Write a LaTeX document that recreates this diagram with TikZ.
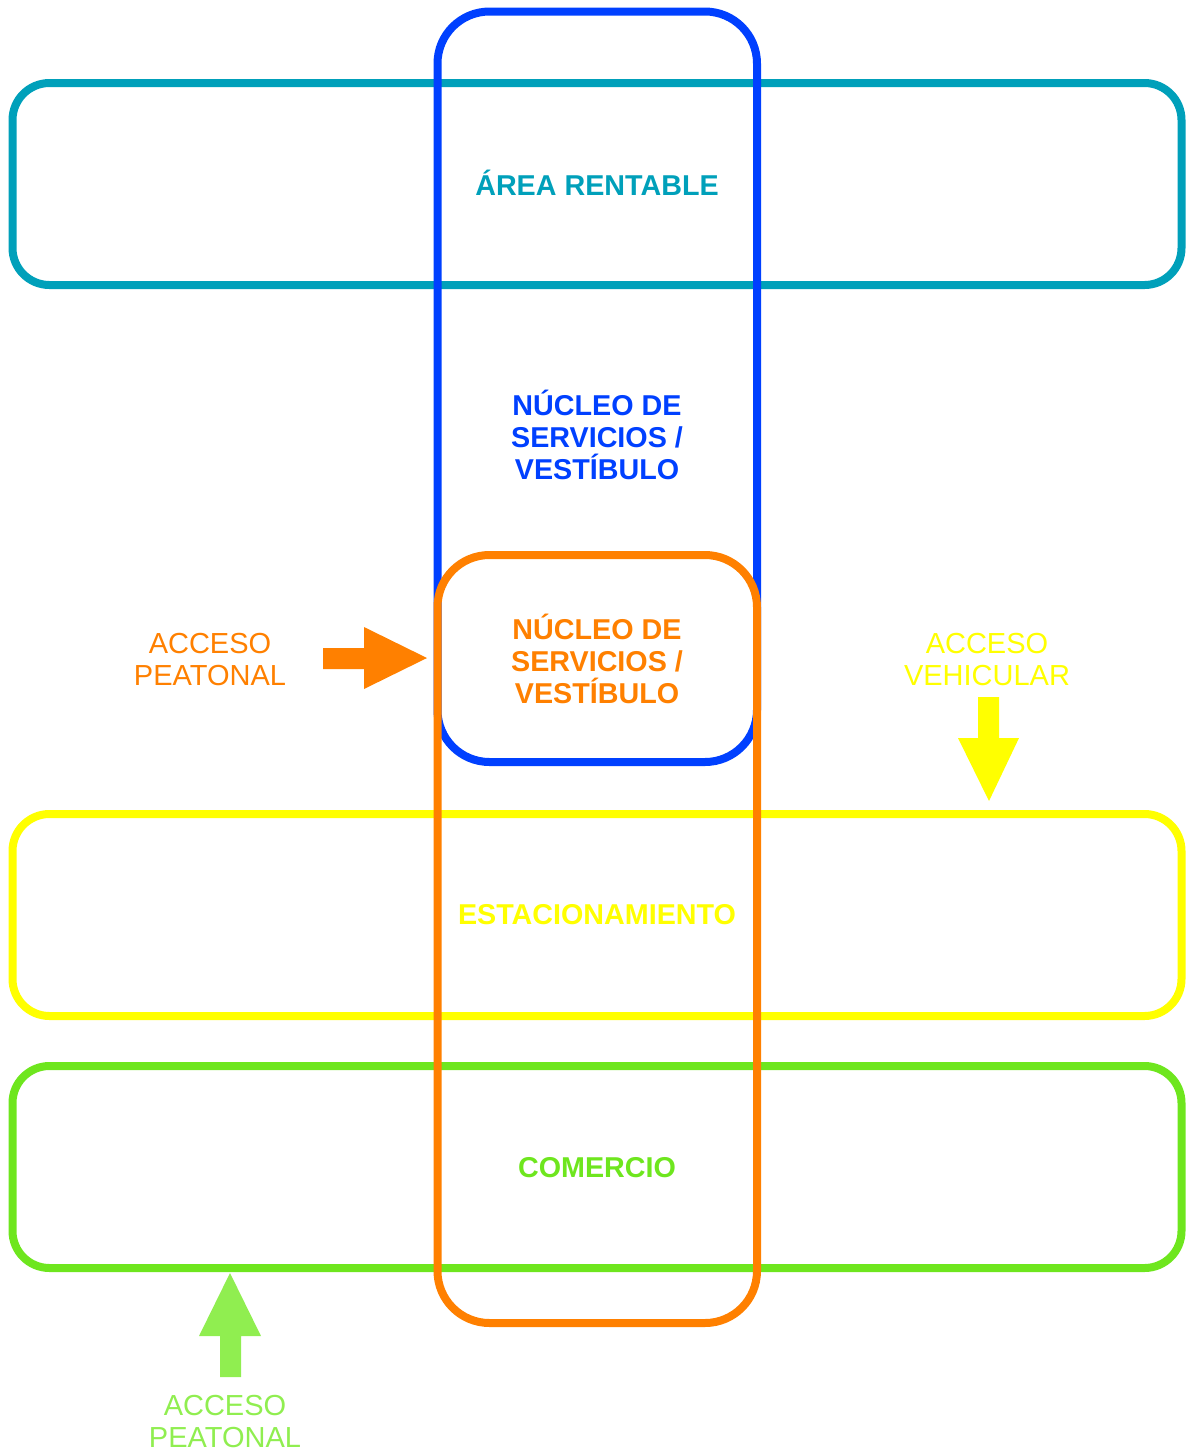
\documentclass[tikz,border=0pt]{standalone}
\usepackage{fontspec}
\setmainfont{Liberation Sans}
\definecolor{renta}{RGB}{0,160,186}
\definecolor{nucleo}{RGB}{0,64,255}
\definecolor{acceso}{RGB}{255,128,0}
\definecolor{estac}{RGB}{255,255,0}
\definecolor{comer}{RGB}{110,230,30}
\definecolor{peaton}{RGB}{144,238,80}
\begin{document}
\begin{tikzpicture}[x=1pt,y=1pt,
  zona/.style={draw, line width=8pt, inner sep=0pt, rounded corners=37pt},
  torre/.style={zona, rounded corners=52pt},
  rotulo/.style={align=center, font=\bfseries\fontsize{28.7}{32}\selectfont},
  aviso/.style={align=center, font=\fontsize{29}{32}\selectfont}]
\useasboundingbox (0,0) rectangle (1190,-1452);
% bands and towers:
\node[zona, draw=renta, minimum width=1169pt, minimum height=202pt] (renta) at (597,-184) {};
\node[torre, draw=nucleo, minimum width=319.5pt, minimum height=750.5pt] (torre) at (597.25,-386.75) {};
\node[zona, draw=estac, minimum width=1169pt, minimum height=202pt] (estac) at (597,-915) {};
\node[zona, draw=comer, minimum width=1169pt, minimum height=202pt] (comer) at (597,-1167) {};
\node[torre, draw=acceso, minimum width=319.5pt, minimum height=768pt] (vestib) at (597.25,-939) {};
% labels:
\node[rotulo, text=renta] (lrenta) at (597,-183) {ÁREA RENTABLE};
\node[rotulo, text=nucleo] (lnucleo) at (597,-435) {NÚCLEO DE\\SERVICIOS /\\VESTÍBULO};
\node[rotulo, text=acceso] (lvestib) at (597,-659) {NÚCLEO DE\\SERVICIOS /\\VESTÍBULO};
\node[rotulo, text=estac] (lestac) at (597,-914.5) {ESTACIONAMIENTO};
\node[rotulo, text=comer] (lcomer) at (597,-1168) {COMERCIO};
\node[aviso, text=acceso] (apeaton) at (210,-660) {ACCESO\\PEATONAL};
\node[aviso, text=estac] (avehic) at (987,-660) {ACCESO\\VEHICULAR};
\node[aviso, text=peaton] (acomer) at (225,-1421) {ACCESO\\PEATONAL};
% arrows:
\path[fill=acceso] (323,-648) -- (364,-648) -- (364,-627) -- (427,-658) -- (364,-689) -- (364,-669) -- (323,-669) -- cycle;
\path[fill=estac] (978,-697) -- (999,-697) -- (999,-738) -- (1019,-738) -- (989,-801) -- (958,-738) -- (978,-738) -- cycle;
\path[fill=peaton] (220,-1377) -- (241,-1377) -- (241,-1336) -- (261,-1336) -- (230,-1273) -- (199,-1336) -- (220,-1336) -- cycle;
\end{tikzpicture}
\end{document}
